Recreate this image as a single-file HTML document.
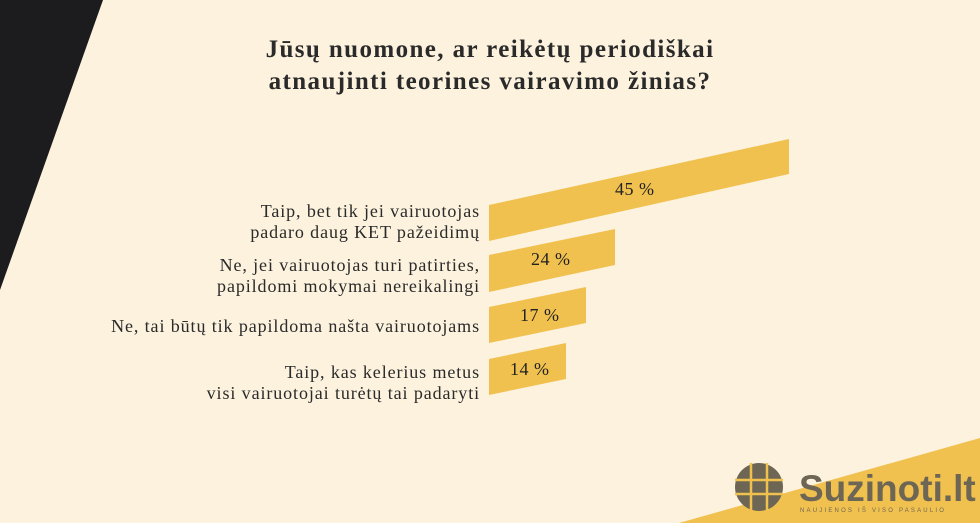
<!DOCTYPE html>
<html><head><meta charset="utf-8"><style>
body{margin:0;width:980px;height:523px;overflow:hidden;background:#fcf2de;position:relative;font-family:"Liberation Serif",serif;color:#222}
.t{position:absolute;left:0;width:980px;top:34px;text-align:center;font-weight:bold;font-size:25px;letter-spacing:1.4px;line-height:32px;color:#2a2a2a}
.l{position:absolute;right:500px;text-align:right;font-size:18px;letter-spacing:0.9px;line-height:21px;color:#2a2a2a;white-space:nowrap}
.v{position:absolute;font-size:18px;letter-spacing:0.5px;color:#222}
</style></head><body>
<svg width="980" height="523" style="position:absolute;left:0;top:0">
<polygon points="0,0 103,0 0,290" fill="#1c1c1e"/>
<polygon points="679,523 980,438 980,523" fill="#f1c14f"/>
<polygon points="489,205 789,139 789,174 489,241" fill="#f1c14f"/>
<polygon points="489,255 615,229 615,265 489,292" fill="#f1c14f"/>
<polygon points="489,307 586,287 586,323 489,343" fill="#f1c14f"/>
<polygon points="489,359 566,343 566,379 489,395" fill="#f1c14f"/>
<g fill="#6e6654"><circle cx="759" cy="487" r="24"/></g>
<g stroke="#f1c14f" stroke-width="2.5" fill="none"><line x1="735" y1="480" x2="783" y2="480"/><line x1="735" y1="494" x2="783" y2="494"/><line x1="751" y1="463" x2="751" y2="511"/><line x1="767" y1="463" x2="767" y2="511"/></g>
<text x="799" y="501" font-family="Liberation Sans" font-weight="bold" font-size="37" fill="#6e6654">Suzinoti.lt</text>
<text x="800" y="512" font-family="Liberation Sans" font-size="6" letter-spacing="2.2" fill="#6e6654">NAUJIENOS IŠ VISO PASAULIO</text>
</svg>
<div class="t">Jūsų nuomone, ar reikėtų periodiškai<br>atnaujinti teorines vairavimo žinias?</div>
<div class="l" style="top:201px">Taip, bet tik jei vairuotojas<br>padaro daug KET pažeidimų</div>
<div class="l" style="top:255px">Ne, jei vairuotojas turi patirties,<br>papildomi mokymai nereikalingi</div>
<div class="l" style="top:316px">Ne, tai būtų tik papildoma našta vairuotojams</div>
<div class="l" style="top:362px">Taip, kas kelerius metus<br>visi vairuotojai turėtų tai padaryti</div>
<div class="v" style="left:615px;top:179px">45 %</div>
<div class="v" style="left:531px;top:249px">24 %</div>
<div class="v" style="left:520px;top:305px">17 %</div>
<div class="v" style="left:510px;top:359px">14 %</div>
</body></html>
